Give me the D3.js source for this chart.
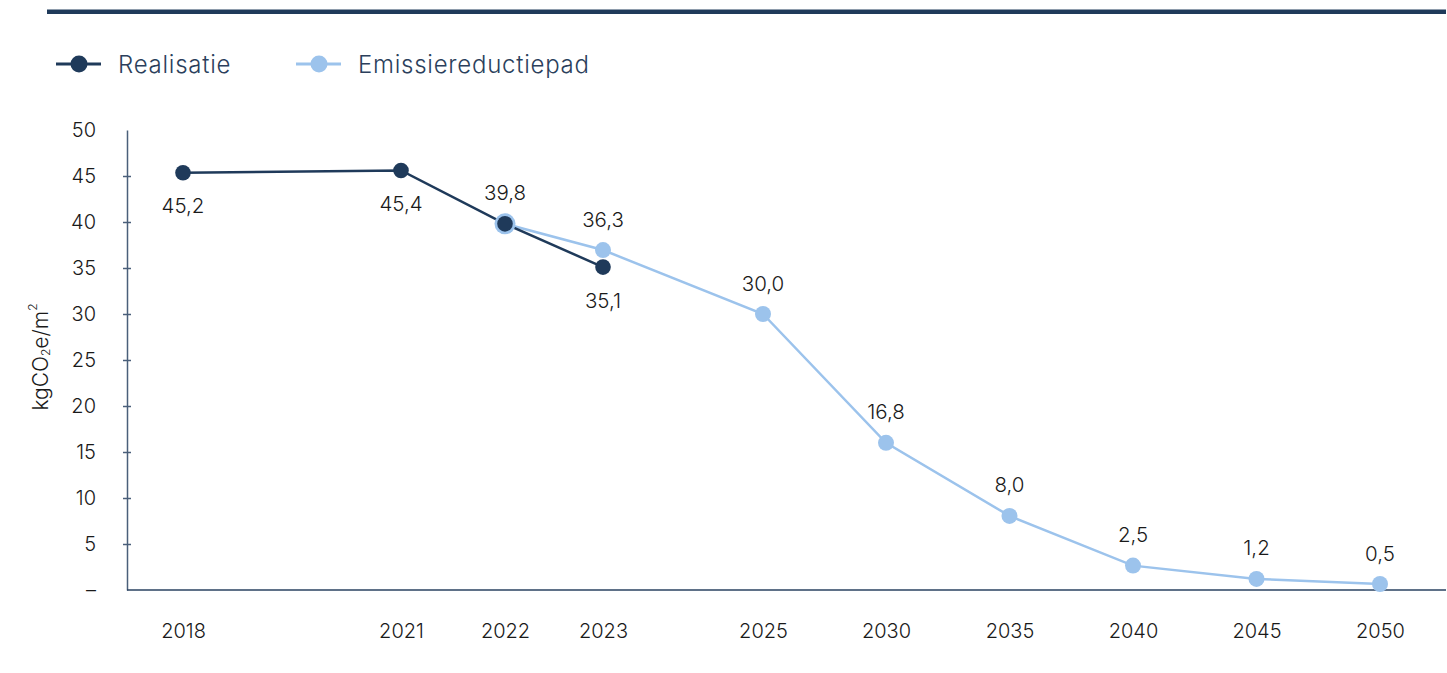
<!DOCTYPE html>
<html>
<head>
<meta charset="utf-8">
<script src="https://cdn.jsdelivr.net/npm/d3@7"></script>
<style>
  html, body { margin: 0; padding: 0; background: #fff; }
  svg { display: block; }
</style>
</head>
<body>
<svg id="chart" width="1447" height="673"></svg>
<script>
// ---- data ----
const yearTicks = [2018, 2021, 2022, 2023, 2025, 2030, 2035, 2040, 2045, 2050];
const realYears = [2018, 2021, 2022, 2023];
const realValues = [45.35, 45.6, 39.8, 35.1];
const realLabels = ["45,2", "45,4", "39,8", "35,1"];
const pathYears = [2022, 2023, 2025, 2030, 2035, 2040, 2045, 2050];
const pathValues = [39.8, 36.95, 30.0, 16.0, 8.05, 2.65, 1.2, 0.65];
const pathLabels = ["39,8", "36,3", "30,0", "16,8", "8,0", "2,5", "1,2", "0,5"];
const yTicks = [0, 5, 10, 15, 20, 25, 30, 35, 40, 45, 50];
const seriesNames = ["Realisatie", "Emissiereductiepad"];

// ---- style ----
const NAVY = "#1f3a5a";
const LIGHT = "#9cc3ec";
const TEXT = "#1a1a1a";
const FONT = "Inter, 'Open Sans', sans-serif";

const svg = d3.select("#chart");

// x axis uses a piecewise scale matching the uneven category spacing
const x = d3.scaleLinear()
  .domain([2018, 2021, 2022, 2023, 2025, 2030, 2050])
  .range([183, 401, 505, 603, 763, 886, 1380]);
const y = d3.scaleLinear().domain([0, 50]).range([590, 130]);

const axisLeftX = 127, axisRightX = 1446;

// top rule
svg.append("line")
  .attr("x1", 47).attr("x2", 1446)
  .attr("y1", 11.7).attr("y2", 11.7)
  .attr("stroke", NAVY).attr("stroke-width", 4.5);

// legend
const legend = svg.append("g");
const legendItems = [
  { name: seriesNames[0], color: NAVY, x0: 56, tx: 118 },
  { name: seriesNames[1], color: LIGHT, x0: 296, tx: 358 }
];
legendItems.forEach(it => {
  const g = legend.append("g");
  g.append("line").attr("x1", it.x0).attr("x2", it.x0 + 45)
    .attr("y1", 64).attr("y2", 64)
    .attr("stroke", it.color).attr("stroke-width", 3);
  g.append("circle").attr("cx", it.x0 + 23).attr("cy", 64).attr("r", 8.5)
    .attr("fill", it.color);
  g.append("text").attr("x", it.tx).attr("y", 64)
    .attr("dominant-baseline", "central")
    .attr("font-family", FONT).attr("font-weight", 300)
    .attr("font-size", 24).attr("letter-spacing", 0.75).attr("fill", "#2b3f5c")
    .text(it.name);
});

// y axis
const yAxis = d3.axisLeft(y)
  .tickValues(yTicks)
  .tickSize(0)
  .tickPadding(0)
  .tickFormat(d => d === 0 ? "–" : d);
const yg = svg.append("g").attr("transform", `translate(${axisLeftX},0)`).call(yAxis);
yg.select(".domain").attr("stroke", "#4a5f7a").attr("stroke-width", 1.5);
yg.selectAll(".tick text")
  .attr("x", -31)
  .attr("font-family", FONT).attr("font-weight", 300).attr("font-size", 20)
  .attr("fill", TEXT);
yg.selectAll(".tick").filter(d => d > 0 && d < 50)
  .append("line").attr("x1", -4).attr("x2", 4)
  .attr("stroke", "#4a5f7a").attr("stroke-width", 1.5);

// x axis line
svg.append("line")
  .attr("x1", axisLeftX).attr("x2", axisRightX)
  .attr("y1", y(0)).attr("y2", y(0))
  .attr("stroke", "#2a4260").attr("stroke-width", 1.5);

// x tick labels via axis
const xAxis = d3.axisBottom(x).tickValues(yearTicks).tickSize(0).tickPadding(0)
  .tickFormat(d => d);
const xg = svg.append("g").attr("transform", `translate(0,${y(0)})`).call(xAxis);
xg.select(".domain").remove();
xg.selectAll(".tick text")
  .attr("dy", null).attr("y", 41)
  .attr("dominant-baseline", "central")
  .attr("font-family", FONT).attr("font-weight", 300).attr("font-size", 20)
  .attr("fill", TEXT);

// y-axis title
const yt = svg.append("text")
  .attr("transform", "translate(40,357) rotate(-90)")
  .attr("text-anchor", "middle")
  .attr("dominant-baseline", "central")
  .attr("font-family", FONT).attr("font-weight", 300)
  .attr("font-size", 21).attr("fill", TEXT);
yt.append("tspan").text("kgCO");
yt.append("tspan").attr("font-size", 12).attr("dy", 5).text("2");
yt.append("tspan").attr("dy", -5).text("e/m");
yt.append("tspan").attr("font-size", 12).attr("dy", -8).text("2");

// data
const real = realYears.map((yr, i) => ({ yr, v: realValues[i], label: realLabels[i] }));
const path = pathYears.map((yr, i) => ({ yr, v: pathValues[i], label: pathLabels[i] }));
const coincides = d => real.some(r => r.yr === d.yr && Math.abs(r.v - d.v) < 0.5);

const line = d3.line().x(d => x(d.yr)).y(d => y(d.v));

svg.append("path").datum(path).attr("d", line)
  .attr("fill", "none").attr("stroke", LIGHT).attr("stroke-width", 2.5);
svg.append("path").datum(real).attr("d", line)
  .attr("fill", "none").attr("stroke", NAVY).attr("stroke-width", 2.5);

svg.selectAll("circle.path").data(path).join("circle").attr("class", "path")
  .attr("cx", d => x(d.yr)).attr("cy", d => y(d.v))
  .attr("r", d => coincides(d) ? 10.5 : 8)
  .attr("fill", LIGHT);
svg.selectAll("circle.real").data(real).join("circle").attr("class", "real")
  .attr("cx", d => x(d.yr)).attr("cy", d => y(d.v))
  .attr("r", 7.8).attr("fill", NAVY);

// labels
svg.selectAll("text.plabel").data(path).join("text").attr("class", "plabel")
  .attr("x", d => x(d.yr)).attr("y", d => y(d.v) - 31)
  .attr("text-anchor", "middle").attr("dominant-baseline", "central")
  .attr("font-family", FONT).attr("font-weight", 300).attr("font-size", 20.5).attr("fill", TEXT)
  .text(d => d.label);
svg.selectAll("text.rlabel").data(real.filter(d => !path.some(p => coincides(p) && p.yr === d.yr)))
  .join("text").attr("class", "rlabel")
  .attr("x", d => x(d.yr)).attr("y", d => y(d.v) + 33)
  .attr("text-anchor", "middle").attr("dominant-baseline", "central")
  .attr("font-family", FONT).attr("font-weight", 300).attr("font-size", 20.5).attr("fill", TEXT)
  .text(d => d.label);
</script>
</body>
</html>
